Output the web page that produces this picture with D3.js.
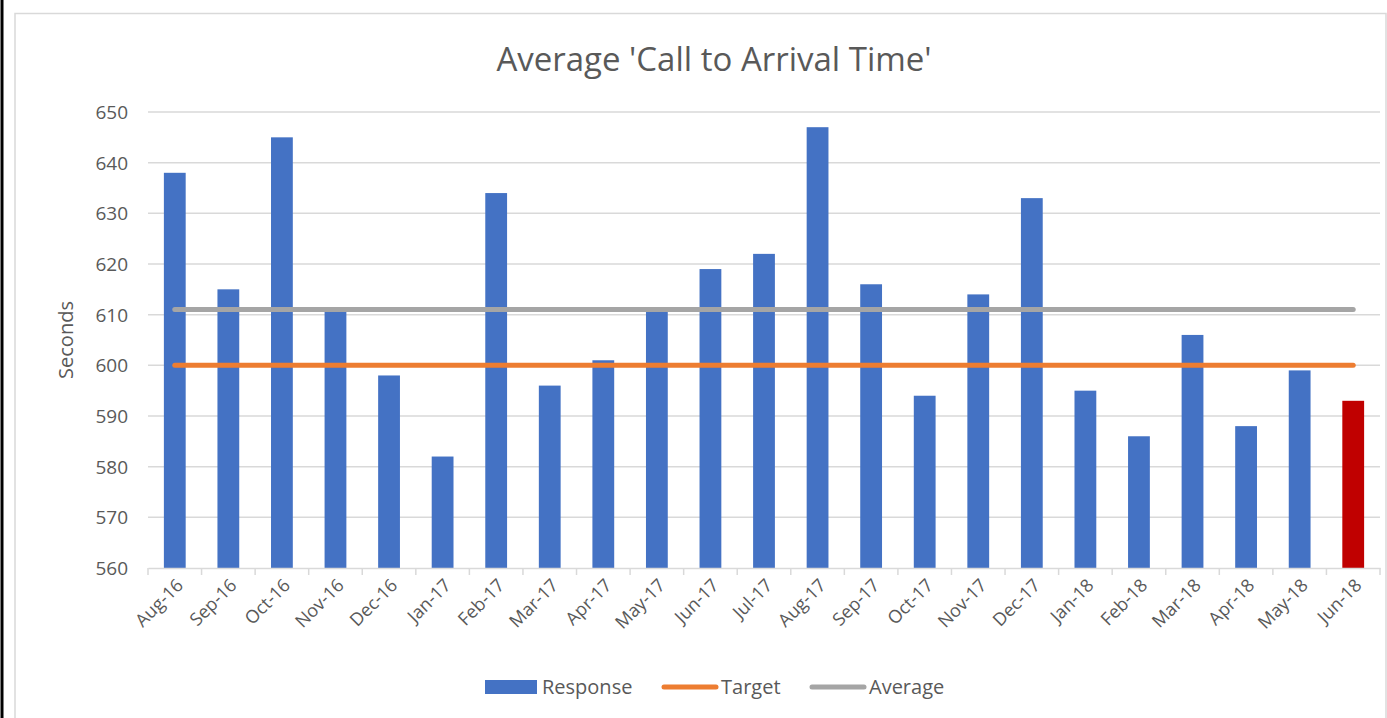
<!DOCTYPE html>
<html><head><meta charset="utf-8">
<script src="https://cdn.jsdelivr.net/npm/d3@7"></script>
<style>body{margin:0;background:#fff;}svg{display:block;font-family:"Open Sans",Calibri,sans-serif;}</style>
</head><body>
<svg id="c" width="1387" height="718"></svg>
<script>
const categories = ["Aug-16","Sep-16","Oct-16","Nov-16","Dec-16","Jan-17","Feb-17","Mar-17","Apr-17","May-17","Jun-17","Jul-17","Aug-17","Sep-17","Oct-17","Nov-17","Dec-17","Jan-18","Feb-18","Mar-18","Apr-18","May-18","Jun-18"];
const response = [638,615,645,611,598,582,634,596,601,611,619,622,647,616,594,614,633,595,586,606,588,599,593];
const target = 600;
const average = 611;
const yTicks = [560,570,580,590,600,610,620,630,640,650];

const svg = d3.select("#c");
const txt = "#595959";
// frames
svg.append("rect").attr("x",15).attr("y",13.5).attr("width",1371).attr("height",720).attr("fill","none").attr("stroke","#d9d9d9").attr("stroke-width",1.5);
svg.append("line").attr("x1",2).attr("x2",2).attr("y1",0).attr("y2",718).attr("stroke","#000").attr("stroke-width",3);

const band = d3.scaleBand().domain(categories).range([148,1380]);
const y = d3.scaleLinear().domain([560,650]).range([568,112]);

// gridlines
svg.append("g").selectAll("line").data(yTicks.slice(1)).join("line")
  .attr("x1",148).attr("x2",1380).attr("y1",d=>y(d)).attr("y2",d=>y(d))
  .attr("stroke","#d9d9d9").attr("stroke-width",1.5);

// y axis labels
const ya = svg.append("g").attr("transform","translate(128,0)").call(d3.axisLeft(y).tickValues(yTicks).tickSize(0).tickPadding(0));
ya.select(".domain").remove();
ya.selectAll("text").attr("fill",txt).style("font-size","19px").style("font-family","'Open Sans',sans-serif").attr("dy","0.35em");

// bars
svg.append("g").selectAll("rect").data(response).join("rect")
  .attr("x",(d,i)=>band(categories[i])+band.bandwidth()/2-10.9)
  .attr("width",21.8)
  .attr("y",d=>y(d)).attr("height",d=>y(560)-y(d))
  .attr("fill",(d,i)=>i===categories.length-1?"#c00000":"#4472c4");

// x axis
const xa = svg.append("g").attr("transform","translate(0,568)")
  .call(d3.axisBottom(band).tickSize(0).tickFormat(""));
xa.select(".domain").attr("stroke","#d9d9d9").attr("stroke-width",1.5);
xa.selectAll(".tick").remove();
const bounds = categories.map(c=>band(c)).concat([1380]);
svg.append("g").selectAll("line").data(bounds).join("line")
  .attr("x1",d=>d).attr("x2",d=>d).attr("y1",568).attr("y2",575)
  .attr("stroke","#d9d9d9").attr("stroke-width",1.5);
svg.append("g").selectAll("text").data(categories).join("text")
  .attr("transform",d=>`translate(${band(d)+band.bandwidth()/2+5},${582}) rotate(-45)`)
  .attr("text-anchor","end").attr("dy","0.35em")
  .attr("fill",txt).style("font-size","18px").text(d=>d);

// lines
const cx = c=>band(c)+band.bandwidth()/2;
const lineGen = d3.line().x(d=>cx(d[0])).y(d=>y(d[1]));
svg.append("path").datum(categories.map(c=>[c,average])).attr("d",lineGen)
  .attr("fill","none").attr("stroke","#a5a5a5").attr("stroke-width",5).attr("stroke-linecap","round");
svg.append("path").datum(categories.map(c=>[c,target])).attr("d",lineGen)
  .attr("fill","none").attr("stroke","#ed7d31").attr("stroke-width",5).attr("stroke-linecap","round");

// title
svg.append("text").attr("x",714).attr("y",71).attr("text-anchor","middle")
  .attr("fill",txt).style("font-size","33px").text("Average 'Call to Arrival Time'");
// y label
svg.append("text").attr("transform","translate(73,340) rotate(-90)").attr("text-anchor","middle")
  .attr("fill",txt).style("font-size","20px").text("Seconds");

// legend
const lg = svg.append("g");
lg.append("rect").attr("x",485).attr("y",680).attr("width",52).attr("height",14).attr("fill","#4472c4");
lg.append("text").attr("x",542).attr("y",694).attr("fill",txt).style("font-size","20px").text("Response");
lg.append("line").attr("x1",664).attr("x2",716).attr("y1",687).attr("y2",687).attr("stroke","#ed7d31").attr("stroke-width",5).attr("stroke-linecap","round");
lg.append("text").attr("x",721).attr("y",694).attr("fill",txt).style("font-size","20px").text("Target");
lg.append("line").attr("x1",812).attr("x2",864).attr("y1",687).attr("y2",687).attr("stroke","#a5a5a5").attr("stroke-width",5).attr("stroke-linecap","round");
lg.append("text").attr("x",869).attr("y",694).attr("fill",txt).style("font-size","20px").text("Average");
</script>
</body></html>
